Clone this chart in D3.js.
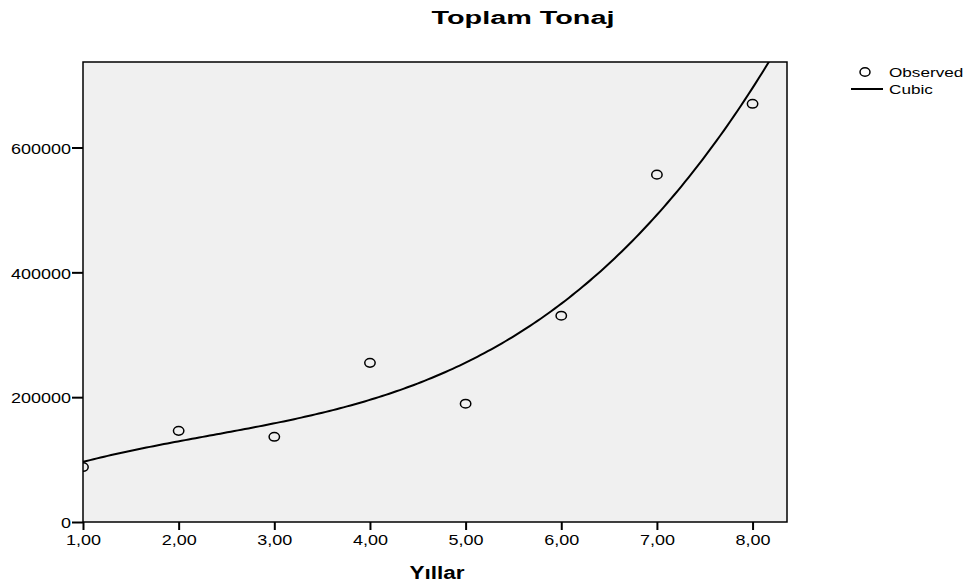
<!DOCTYPE html>
<html>
<head>
<meta charset="utf-8">
<script src="https://cdn.jsdelivr.net/npm/d3@7"></script>
<style>
  body { margin: 0; background: #fff; }
  text { font-family: "Liberation Sans", Arial, sans-serif; fill: #000; }
</style>
</head>
<body>
<svg id="chart" width="972" height="587"></svg>
<script>
const title = 'Toplam Tonaj'
const xTitle = 'Yıllar'
const years = [1, 2, 3, 4, 5, 6, 7, 8]
const observed = [88000, 146000, 136500, 255000, 189500, 330500, 556500, 670000]
const xTicks = [1, 2, 3, 4, 5, 6, 7, 8]
const yTicks = [0, 200000, 400000, 600000]
const legendItems = ['Observed', 'Cubic']

const width = 972
const height = 587
const margin = { top: 62, right: 185, bottom: 65, left: 83 }
const innerW = width - margin.left - margin.right
const innerH = height - margin.top - margin.bottom

// least squares cubic fit of the observed series (what the "Cubic" line is)
function cubicFit(xs, ys) {
  const n = 4
  const A = Array.from({ length: n }, () => new Array(n + 1).fill(0))
  xs.forEach((x, k) => {
    for (let i = 0; i < n; i++) {
      for (let j = 0; j < n; j++) A[i][j] += Math.pow(x, i + j)
      A[i][n] += ys[k] * Math.pow(x, i)
    }
  })
  for (let c = 0; c < n; c++) {
    let p = c
    for (let r = c + 1; r < n; r++) if (Math.abs(A[r][c]) > Math.abs(A[p][c])) p = r
    ;[A[c], A[p]] = [A[p], A[c]]
    for (let r = 0; r < n; r++) {
      if (r === c) continue
      const f = A[r][c] / A[c][c]
      for (let j = c; j <= n; j++) A[r][j] -= f * A[c][j]
    }
  }
  const b = A.map((row, i) => row[n] / row[i])
  return x => b[0] + b[1] * x + b[2] * x * x + b[3] * x * x * x
}
const cubic = cubicFit(years, observed)

// SPSS output text is drawn wider than the plain font, stretch it a bit
function stretch(sel, k) {
  sel.each(function () {
    const w = this.getComputedTextLength()
    d3.select(this).attr('textLength', w * k).attr('lengthAdjust', 'spacingAndGlyphs')
  })
}

const x = d3.scaleLinear().domain([1, 8.36]).range([0, innerW])
const y = d3.scaleLinear().domain([0, 737000]).range([innerH, 0])

const svg = d3.select('#chart')

svg.append('text')
  .attr('x', 523).attr('y', 24)
  .attr('text-anchor', 'middle')
  .attr('font-size', 18).attr('font-weight', 'bold')
  .text(title)
  .call(stretch, 1.6)

const g = svg.append('g').attr('transform', `translate(${margin.left},${margin.top})`)

g.append('clipPath').attr('id', 'clip')
  .append('rect').attr('width', innerW).attr('height', innerH)

g.append('rect')
  .attr('width', innerW).attr('height', innerH)
  .attr('fill', '#f0f0f0')

const plot = g.append('g').attr('clip-path', 'url(#clip)')

const curveXs = d3.range(0, 201).map(i => 1 + (8.36 - 1) * i / 200)
plot.append('path')
  .datum(curveXs)
  .attr('fill', 'none')
  .attr('stroke', '#000')
  .attr('stroke-width', 2)
  .attr('d', d3.line().x(d => x(d)).y(d => y(cubic(d))))

plot.selectAll('ellipse')
  .data(years)
  .join('ellipse')
  .attr('cx', d => x(d))
  .attr('cy', (d, i) => y(observed[i]))
  .attr('rx', 5.2).attr('ry', 4.3)
  .attr('fill', 'none')
  .attr('stroke', '#000')
  .attr('stroke-width', 1.5)

g.append('rect')
  .attr('width', innerW).attr('height', innerH)
  .attr('fill', 'none').attr('stroke', '#000').attr('stroke-width', 1.5)

const xAxis = g.append('g')
  .attr('transform', `translate(0,${innerH})`)
  .call(d3.axisBottom(x).tickValues(xTicks).tickSize(8).tickPadding(4)
    .tickFormat(d => d3.format('.2f')(d).replace('.', ',')))
const yAxis = g.append('g')
  .call(d3.axisLeft(y).tickValues(yTicks).tickSize(11).tickPadding(1).tickFormat(d3.format('d')))

;[xAxis, yAxis].forEach(a => {
  a.select('.domain').remove()
  a.selectAll('line').attr('stroke', '#000').attr('stroke-width', 2)
  a.selectAll('text')
    .attr('font-size', 15)
    .attr('font-family', '"Liberation Sans", Arial, sans-serif')
    .call(stretch, 1.2)
})
yAxis.selectAll('text').attr('dy', '0.38em')

svg.append('text')
  .attr('x', margin.left + innerW / 2 + 2).attr('y', 579)
  .attr('text-anchor', 'middle')
  .attr('font-size', 18).attr('font-weight', 'bold')
  .text(xTitle)
  .call(stretch, 1.25)

const legend = svg.append('g').attr('transform', 'translate(851,72)')
legend.append('ellipse')
  .attr('cx', 14).attr('cy', 0).attr('rx', 5).attr('ry', 4.3)
  .attr('fill', 'none').attr('stroke', '#000').attr('stroke-width', 1.5)
legend.append('line')
  .attr('x1', 0).attr('x2', 32).attr('y1', 17).attr('y2', 17)
  .attr('stroke', '#000').attr('stroke-width', 2)
legend.selectAll('text.lbl')
  .data(legendItems)
  .join('text')
  .attr('class', 'lbl')
  .attr('x', 38)
  .attr('y', (d, i) => 5 + i * 17)
  .attr('font-size', 13.5)
  .text(d => d)
  .call(stretch, 1.27)
</script>
</body>
</html>
